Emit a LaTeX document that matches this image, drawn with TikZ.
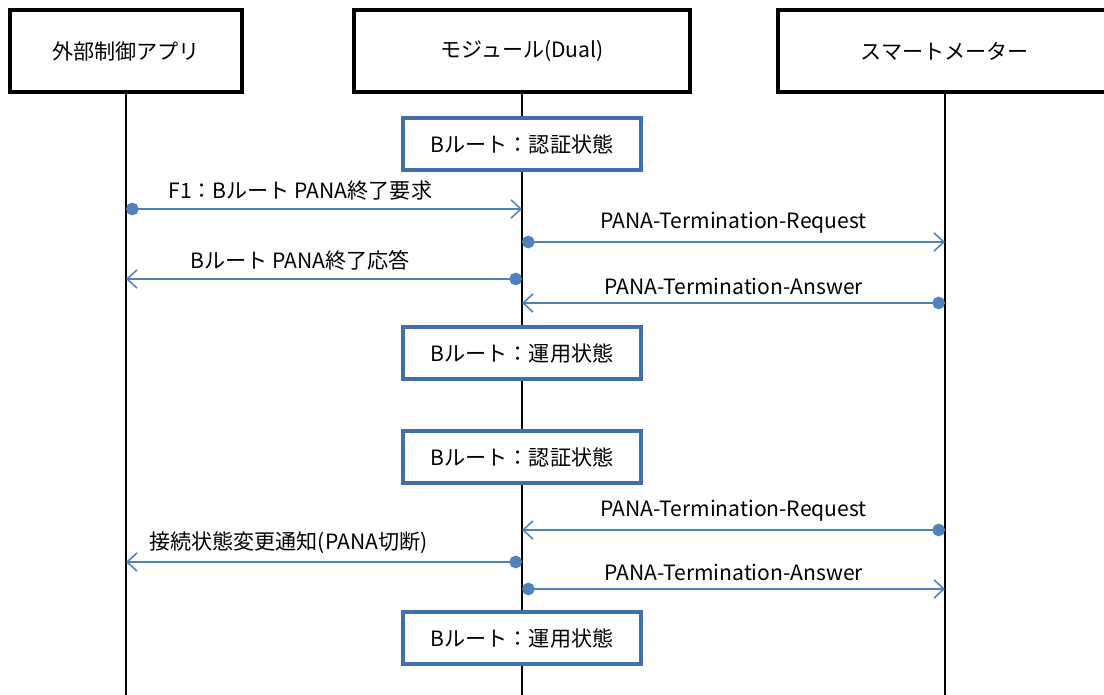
\documentclass[tikz,border=0pt]{standalone}
\usepackage{fontspec}
\setmainfont{Noto Sans CJK JP}
\usetikzlibrary{arrows.meta}
\definecolor{msgblue}{RGB}{79,129,189}
\definecolor{stateblue}{RGB}{65,113,170}

\begin{document}
\begin{tikzpicture}[x=0.025cm,y=-0.025cm,
    font=\fontsize{15pt}{18pt}\selectfont,
    actor/.style={draw,line width=2.5pt,minimum width=5.8cm,minimum height=2.05cm,inner sep=0pt},
    lifeline/.style={line width=2pt},
    statebox/.style={draw=stateblue,line width=2.4pt,fill=white,minimum width=5.95cm,minimum height=1.3cm},
    msg/.style={msgblue,line width=1.1pt,{Circle[length=9pt]}-{Straight Barb[length=7pt,width=13pt]}},
    msglabel/.style={above=2pt,text=black}]

    \clip (0,0) rectangle (1104,695);

    \node[actor] (App) at (126,51) {外部制御アプリ};
    \node[actor,minimum width=8.4cm] (Mod) at (522,51) {モジュール(Dual)};
    \node[actor,minimum width=8.35cm] (Meter) at (945,51) {スマートメーター};

    \draw[lifeline] (App.south) -- (App.south |- 0,700);
    \draw[lifeline] (Mod.south) -- (Mod.south |- 0,700);
    \draw[lifeline] (Meter.south) -- (Meter.south |- 0,700);

    \node[statebox] (AuthA) at (522,144) {Bルート：認証状態};
    \node[statebox] (RunA) at (522,353) {Bルート：運用状態};
    \node[statebox] (AuthB) at (522,457) {Bルート：認証状態};
    \node[statebox] (RunB) at (522,638) {Bルート：運用状態};

    \coordinate (F1App) at (App |- 0,209);
    \coordinate (F1Mod) at (Mod |- 0,209);
    \coordinate (ReqAMod) at (Mod |- 0,242);
    \coordinate (ReqAMeter) at (Meter |- 0,242);
    \coordinate (RspMod) at (Mod |- 0,279);
    \coordinate (RspApp) at (App |- 0,279);
    \coordinate (AnsAMeter) at (Meter |- 0,303);
    \coordinate (AnsAMod) at (Mod |- 0,303);

    \coordinate (ReqBMeter) at (Meter |- 0,530);
    \coordinate (ReqBMod) at (Mod |- 0,530);
    \coordinate (NtfMod) at (Mod |- 0,562);
    \coordinate (NtfApp) at (App |- 0,562);
    \coordinate (AnsBMod) at (Mod |- 0,589);
    \coordinate (AnsBMeter) at (Meter |- 0,589);

    \draw[msg] (F1App) -- node[msglabel,pos=0.44] (F1Label) {F1：Bルート PANA終了要求} (F1Mod);
    \draw[msg] (ReqAMod) -- node[msglabel] (ReqALabel) {PANA-Termination-Request} (ReqAMeter);
    \draw[msg] (RspMod) -- node[msglabel,pos=0.56] (RspLabel) {Bルート PANA終了応答} (RspApp);
    \draw[msg] (AnsAMeter) -- node[msglabel] (AnsALabel) {PANA-Termination-Answer} (AnsAMod);

    \draw[msg] (ReqBMeter) -- node[msglabel] (ReqBLabel) {PANA-Termination-Request} (ReqBMod);
    \draw[msg] (NtfMod) -- node[msglabel,pos=0.59] (NtfLabel) {接続状態変更通知(PANA切断)} (NtfApp);
    \draw[msg] (AnsBMod) -- node[msglabel] (AnsBLabel) {PANA-Termination-Answer} (AnsBMeter);

  \end{tikzpicture}
\end{document}
